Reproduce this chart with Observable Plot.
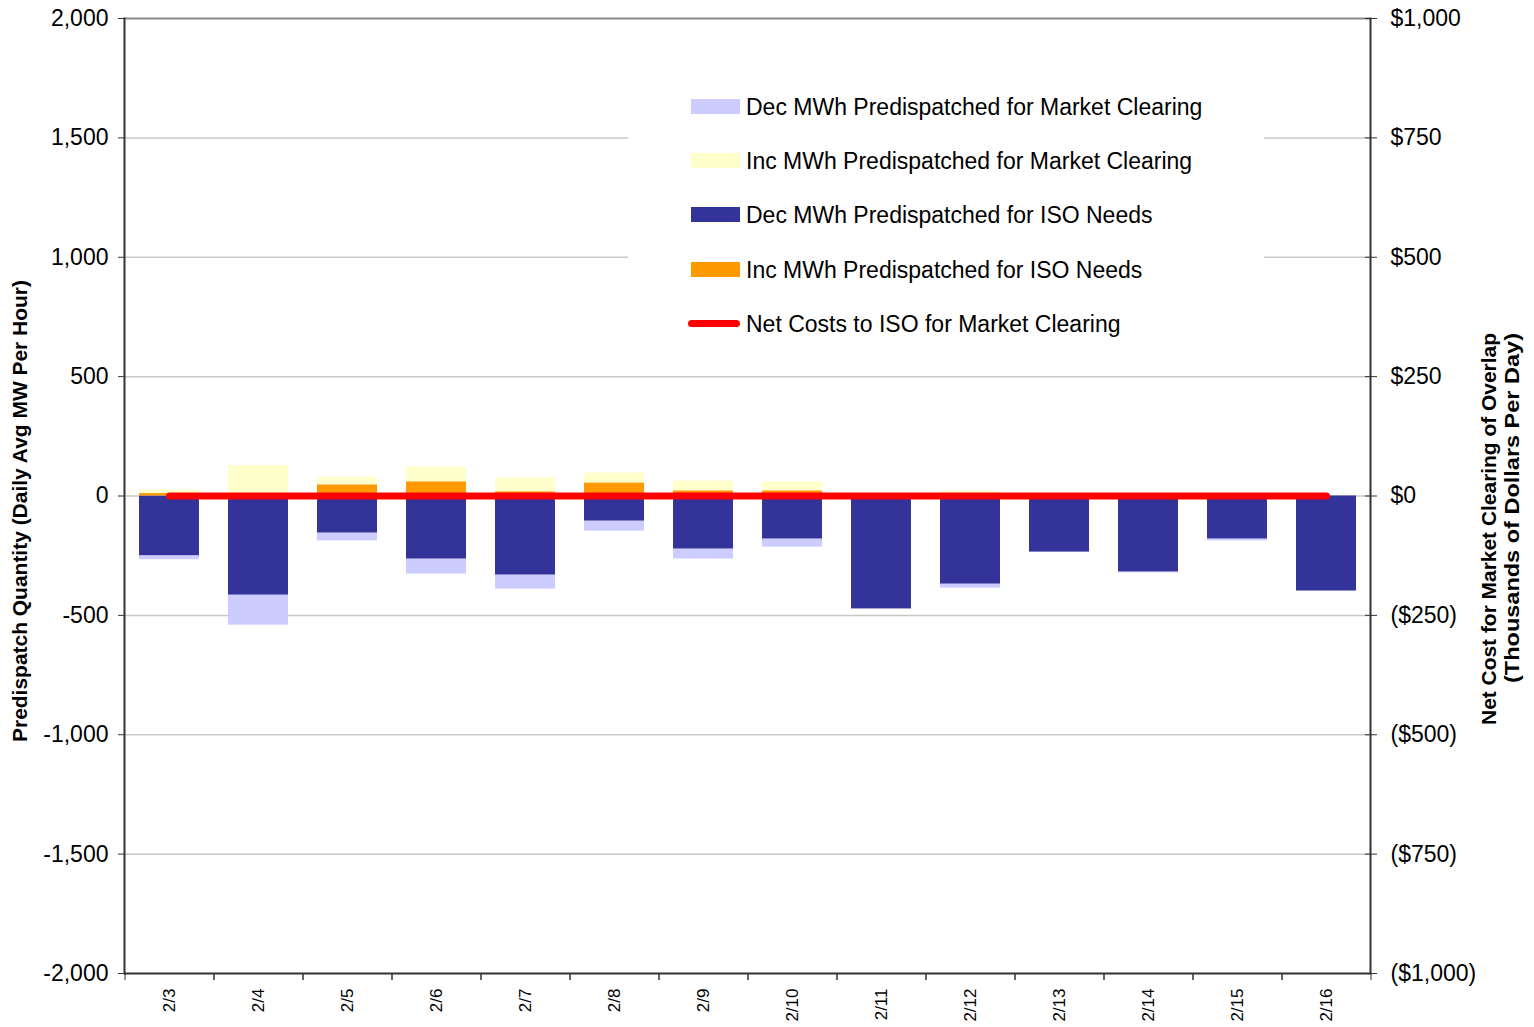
<!DOCTYPE html>
<html><head><meta charset="utf-8">
<script src="https://cdn.jsdelivr.net/npm/d3@7"></script>
<script src="https://cdn.jsdelivr.net/npm/@observablehq/plot@0.6"></script>
<style>
body{margin:0;background:#fff;font-family:"Liberation Sans",Arial,sans-serif}
#wrap{position:relative;width:1534px;height:1027px;overflow:hidden}
#legend{position:absolute;left:628px;top:82px;width:636px;height:262px;background:#fff}
.item{position:absolute;left:60px;height:24px;line-height:24px;font-size:23px;color:#000;white-space:nowrap}
.sw{position:absolute;left:3px;top:4px;width:49px;height:15px}
.ln{position:absolute;left:0px;top:8px;width:52px;height:7px;border-radius:4px;background:#ff0000}
.tx{position:absolute;left:58px;top:0}
</style>
</head><body>
<div id="wrap"><div id="chart"></div><div id="legend"></div></div>
<script>
const dates = ["2/3","2/4","2/5","2/6","2/7","2/8","2/9","2/10","2/11","2/12","2/13","2/14","2/15","2/16"];
const seriesNames = ["Dec MWh Predispatched for Market Clearing","Inc MWh Predispatched for Market Clearing","Dec MWh Predispatched for ISO Needs","Inc MWh Predispatched for ISO Needs"];
const lineName = "Net Costs to ISO for Market Clearing";
const seriesColors = ["#ccccff","#ffffcc","#333399","#ff9900"];
const lineColor = "#ff0000";
const decMC  = [-17,-126,-33,-63,-59,-42,-42,-34,0,-17,0,-4,-8,0];
const incMC  = [15,127,33,63,59,42,42,38,0,20,0,0,0,0];
const decISO = [-250,-415,-155,-264,-331,-105,-222,-180,-473,-369,-235,-318,-180,-398];
const incISO = [10,0,46,59,17,54,21,21,0,0,0,0,0,0];
const netCost = [0,0,0,0,0,0,0,0,0,0,0,0,0,0]; // thousands of dollars per day
const leftTicks = [-2000,-1500,-1000,-500,0,500,1000,1500,2000];
const rightTickValues = [-1000,-750,-500,-250,0,250,500,750,1000];
const leftTitle = "Predispatch Quantity (Daily Avg MW Per Hour)";
const rightTitle1 = "Net Cost for Market Clearing of Overlap";
const rightTitle2 = "(Thousands of Dollars Per Day)";

const seriesVals = [decMC, incMC, decISO, incISO];
const stackOrder = [seriesNames[2], seriesNames[3], seriesNames[0], seriesNames[1]];
const rows = [];
dates.forEach((d,i)=>seriesVals.forEach((s,k)=>rows.push({date:d, series:seriesNames[k], value:s[i]})));
const costRows = dates.map((d,i)=>({date:d, cost:netCost[i]}));
const ratio = 2; // left units per right unit
const W=1534,H=1027,ML=124,MR=164,MT=18,MB=54;
const step=(W-ML-MR)/dates.length;
const fmt = d3.format(",");
const leftFmt = d => (d<0?"-":"")+fmt(Math.abs(d));
const rightFmt = d => { const v=d/ratio; return v===0?"$0":(v>0?"$"+fmt(v):"($"+fmt(-v)+")"); };
const font = '"Liberation Sans",Arial,sans-serif';

const chart = Plot.plot({
  width:W, height:H, marginLeft:ML, marginRight:MR, marginTop:MT, marginBottom:MB,
  style:{fontFamily:font, fontSize:"23px", color:"#000", background:"white", overflow:"visible"},
  x:{domain:dates, paddingInner:0.33, paddingOuter:0.165, label:null},
  y:{domain:[-2000,2000], label:null},
  color:{domain:seriesNames, range:seriesColors},
  marks:[
    Plot.gridY(leftTicks.filter(d=>Math.abs(d)<2000), {stroke:"#c8c8c8", strokeOpacity:1, strokeWidth:1.5}),
    Plot.barY(rows, Plot.stackY({x:"date", y:"value", fill:"series", z:"series", order:stackOrder})),
    Plot.lineY(costRows, {x:"date", y:d=>d.cost*ratio, stroke:lineColor, strokeWidth:7, strokeLinecap:"round"}),
    Plot.ruleY([2000], {stroke:"#888", strokeWidth:2}),
    Plot.ruleY([-2000], {stroke:"#333", strokeWidth:2}),
    Plot.frame({anchor:"left", stroke:"#333", strokeWidth:2}),
    Plot.frame({anchor:"right", stroke:"#333", strokeWidth:2}),
    Plot.axisY({ticks:leftTicks, tickSize:6, tickPadding:10, tickFormat:leftFmt, label:null, fontSize:23, stroke:"#333"}),
    Plot.axisY({anchor:"right", ticks:rightTickValues.map(v=>v*ratio), tickSize:12, dx:-6, tickFormat:()=>"", label:null, stroke:"#333"}),
    Plot.axisY({anchor:"right", ticks:rightTickValues.map(v=>v*ratio), tickSize:0, tickPadding:20, tickFormat:rightFmt, label:null, fontSize:23}),
    Plot.axisX({tickSize:7, dx:step/2, tickFormat:()=>"", label:null, stroke:"#333"}),
    Plot.axisX({tickSize:7, dx:-step/2, tickFormat:()=>"", label:null, stroke:"#333"}),
    Plot.axisX({tickSize:0, tickPadding:15, tickRotate:-90, fontSize:17, label:null})
  ]
});
document.getElementById("chart").appendChild(chart);

const svg = d3.select(chart);
function vtitle(txt, x, cy, len){
  svg.append("text").attr("transform",`translate(${x},${cy}) rotate(-90)`)
    .attr("text-anchor","middle").attr("font-family",font).attr("font-weight","bold")
    .attr("font-size",20).attr("textLength",len).attr("lengthAdjust","spacingAndGlyphs")
    .attr("fill","#000").text(txt);
}
vtitle(leftTitle, 27, 511, 462);
vtitle(rightTitle1, 1496, 529, 392);
vtitle(rightTitle2, 1519, 508, 350);

const legend = document.getElementById("legend");
const centers=[25,79,133,188,242];
seriesNames.forEach((n,i)=>{
  const it=document.createElement("div"); it.className="item"; it.style.top=(centers[i]-12)+"px";
  it.innerHTML=`<span class="sw" style="background:${seriesColors[i]}"></span><span class="tx">${n}</span>`;
  legend.appendChild(it);
});
const it=document.createElement("div"); it.className="item"; it.style.top=(centers[4]-12)+"px";
it.innerHTML=`<span class="ln"></span><span class="tx">${lineName}</span>`;
legend.appendChild(it);
</script>
</body></html>
